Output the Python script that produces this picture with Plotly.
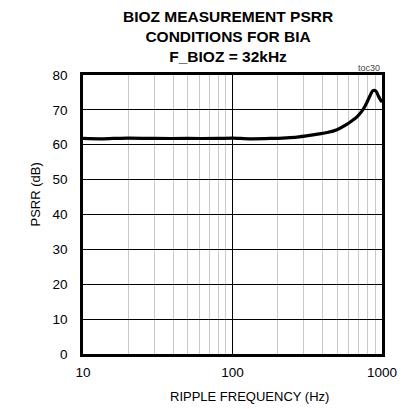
import plotly.graph_objects as go

# PSRR vs ripple frequency
freq_hz = [10, 13, 16, 20, 30, 50, 80, 100, 130, 180, 230, 270, 320, 380, 430, 500, 570, 630, 680, 720, 750, 790, 830, 870, 910, 950, 1000]
psrr_db = [61.8, 61.7, 61.8, 61.9, 61.8, 61.8, 61.8, 61.9, 61.7, 61.8, 62.0, 62.2, 62.6, 63.1, 63.5, 64.3, 65.6, 66.9, 68.0, 69.2, 70.2, 72.0, 74.0, 75.5, 75.4, 73.8, 72.2]

x_major = [10, 100, 1000]
x_minor = [20, 30, 40, 50, 60, 70, 80, 90, 200, 300, 400, 500, 600, 700, 800, 900]
y_ticks = [0, 10, 20, 30, 40, 50, 60, 70, 80]

FONT = "Liberation Sans, Arial, sans-serif"

fig = go.Figure()
fig.add_trace(go.Scatter(
    x=freq_hz, y=psrr_db, mode="lines",
    line=dict(color="black", width=3.2, shape="spline", smoothing=0.8),
    showlegend=False, hoverinfo="skip",
))

fig.update_layout(
    width=404, height=409,
    margin=dict(l=83, r=22, t=75, b=55),
    paper_bgcolor="white", plot_bgcolor="white",
    font=dict(family=FONT, color="black", size=13),
    xaxis=dict(
        type="log", range=[1, 3], automargin=False,
        tickvals=x_major, ticktext=["10", "100", "1000"],
        tickfont=dict(size=13.5),
        showgrid=True, gridcolor="black", gridwidth=1,
        minor=dict(tickvals=x_minor, showgrid=True, gridcolor="#c8c8c8", gridwidth=1, ticks=""),
        showline=True, linecolor="black", linewidth=2.5, mirror=True,
        ticks="", ticklabelstandoff=4,
        zeroline=False,
    ),
    yaxis=dict(
        range=[0, 80], tickvals=y_ticks, automargin=False,
        tickfont=dict(size=13.5),
        showgrid=True, gridcolor="black", gridwidth=1,
        showline=True, linecolor="black", linewidth=2.5, mirror=True,
        ticks="", ticklabelstandoff=10,
        zeroline=False,
    ),
    annotations=[
        dict(
            text="<b>BIOZ MEASUREMENT PSRR<br>CONDITIONS FOR BIA<br>F_BIOZ = 32kHz</b>",
            xref="paper", yref="paper", x=0.5, y=1.0, xanchor="center", yanchor="bottom",
            xshift=-5, yshift=8, showarrow=False, align="center",
            font=dict(family=FONT, size=15.5, color="black"),
        ),
        dict(
            text="RIPPLE FREQUENCY (Hz)",
            xref="paper", yref="paper", x=0.5, y=0, xanchor="center", yanchor="middle",
            xshift=17, yshift=-42, showarrow=False,
            font=dict(family=FONT, size=13, color="black"),
        ),
        dict(
            text="PSRR (dB)", textangle=-90,
            xref="paper", yref="paper", x=0, y=0.5, xanchor="center", yanchor="middle",
            xshift=-48, yshift=20, showarrow=False,
            font=dict(family=FONT, size=13, color="black"),
        ),
        dict(
            text="toc30", xref="paper", yref="paper", x=1.0, y=1.0,
            xanchor="right", yanchor="bottom", showarrow=False,
            font=dict(family=FONT, size=9, color="#444444"), yshift=0,
        ),
    ],
)

fig.write_html("out.html")
